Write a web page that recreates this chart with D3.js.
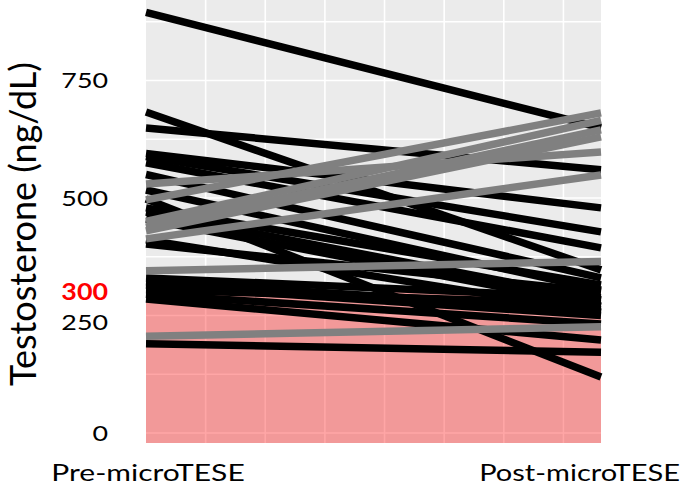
<!DOCTYPE html>
<html lang="en">
<head>
<meta charset="UTF-8">
<title>Testosterone pre / post microTESE</title>
<script src="https://cdnjs.cloudflare.com/ajax/libs/d3/7.8.5/d3.min.js"></script>
<style>
  html, body { margin: 0; padding: 0; background: #fff; }
  svg text { font-family: Lato, 'Open Sans', sans-serif; }
</style>
</head>
<body>
<div id="chart"></div>
<script>
// time points
const timepoints = ["Pre-microTESE", "Post-microTESE"];

// patients whose testosterone fell (drawn black)
const declinePre  = [895, 683, 649, 595, 588, 575, 550, 517, 498, 479, 470, 455, 411, 402, 330, 322, 315, 305, 295, 285, 190];
const declinePost = [649, 347, 560, 479, 428, 394, 330, 304, 119, 315, 283, 270, 257, 300, 288, 262, 250, 275, 232, 198, 172];

// patients whose testosterone rose (drawn grey)
const risePre  = [530, 496, 450, 438, 430, 413, 345, 206];
const risePost = [598, 681, 665, 645, 630, 549, 365, 226];

const yTicks = [0, 250, 500, 750];
const threshold = 300;

const W = 685, H = 486;
const plot = { left: 146, right: 601, top: 0, bottom: 443 };
const stretch = 1.22; // the source figure's lettering is widened

const svg = d3.select("#chart").append("svg")
    .attr("width", W)
    .attr("height", H);

const y = d3.scaleLinear().domain([-21.3, 921.3]).range([plot.bottom, plot.top]);
const x = d3.scalePoint().domain(timepoints).range([plot.left, plot.right]);
// background grid runs on its own even spacing
const gridX = d3.scaleLinear().domain([0, 7.63]).range([plot.left, plot.right]);

// panel
svg.append("rect")
    .attr("x", plot.left).attr("y", plot.top)
    .attr("width", plot.right - plot.left)
    .attr("height", plot.bottom - plot.top)
    .attr("fill", "#ebebeb");

const grid = svg.append("g").attr("stroke", "#fff").attr("stroke-width", 1.6);
d3.range(0, 1000, 125).forEach(v => {
    grid.append("line")
        .attr("x1", plot.left).attr("x2", plot.right)
        .attr("y1", y(v)).attr("y2", y(v));
});
d3.range(1, 8).forEach(t => {
    grid.append("line")
        .attr("x1", gridX(t)).attr("x2", gridX(t))
        .attr("y1", plot.top).attr("y2", plot.bottom);
});

// hypogonadal zone below 300
svg.append("rect")
    .attr("x", plot.left).attr("y", y(threshold))
    .attr("width", plot.right - plot.left)
    .attr("height", plot.bottom - y(threshold))
    .attr("fill", "rgb(255,0,0)")
    .attr("fill-opacity", 0.35);

const line = d3.line().x(d => x(d[0])).y(d => y(d[1]));

const pairs = (pre, post) => pre.map((v, i) => [[timepoints[0], v], [timepoints[1], post[i]]]);

svg.append("g").selectAll("path")
    .data(pairs(declinePre, declinePost))
    .join("path")
    .attr("d", line)
    .attr("fill", "none")
    .attr("stroke", "#000")
    .attr("stroke-width", 7.5);

svg.append("g").selectAll("path")
    .data(pairs(risePre, risePost))
    .join("path")
    .attr("d", line)
    .attr("fill", "none")
    .attr("stroke", "#808080")
    .attr("stroke-width", 7.5);

// y tick labels
svg.append("g").selectAll("text")
    .data(yTicks)
    .join("text")
    .attr("transform", d => `translate(108,${y(d) + (d === 250 ? 7 : 0)}) scale(${stretch},1)`)
    .attr("dy", "0.35em")
    .attr("text-anchor", "end")
    .attr("font-size", 22)
    .attr("fill", "#000")
    .text(d => d);

svg.append("text")
    .attr("transform", `translate(108,${y(threshold)}) scale(${stretch},1)`)
    .attr("dy", "0.35em")
    .attr("text-anchor", "end")
    .attr("font-size", 22)
    .attr("font-weight", "bold")
    .attr("fill", "#ff0000")
    .text(threshold);

// axis title
svg.append("text")
    .attr("transform", `translate(36,224) rotate(-90)`)
    .attr("text-anchor", "middle")
    .attr("font-size", 36)
    .attr("fill", "#000")
    .text("Testosterone (ng/dL)");

// x labels
svg.append("text")
    .attr("transform", `translate(148,481) scale(1.25,1)`)
    .attr("text-anchor", "middle")
    .attr("font-size", 24)
    .text(timepoints[0]);

svg.append("text")
    .attr("transform", `translate(680,481) scale(1.21,1)`)
    .attr("text-anchor", "end")
    .attr("font-size", 24)
    .text(timepoints[1]);
</script>
</body>
</html>
